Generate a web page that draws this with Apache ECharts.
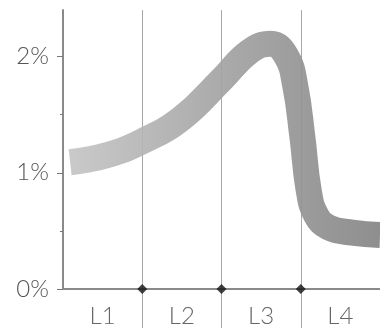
<!DOCTYPE html>
<html>
<head>
<meta charset="utf-8">
<script src="https://cdn.jsdelivr.net/npm/echarts@6/dist/echarts.min.js"></script>
<style>html,body{margin:0;padding:0;background:#fff}#c{width:380px;height:333px}</style>
</head>
<body>
<div id="c"></div>
<script>
// Data
const categories = ['L1', 'L2', 'L3', 'L4'];
const boundaries = [1, 2, 3];
const curveX = [0.09, 0.55, 1.0, 1.5, 2.0, 2.35, 2.62, 2.82, 2.93, 3.02, 3.1, 3.19, 3.35, 3.65, 4.0];
const curveY = [1.09, 1.15, 1.27, 1.47, 1.80, 2.04, 2.11, 2.00, 1.75, 1.31, 0.85, 0.64, 0.53, 0.485, 0.465];
const yTicks = [0, 1, 2];

const chart = echarts.init(document.getElementById('c'), null, {renderer: 'canvas'});
const font = 'Lato, "Open Sans", sans-serif';
const L = 63, W = 320, BOTTOM = 44, TOP = 10;
const YMAX = 2.4;
const unit = (333 - BOTTOM - TOP) / YMAX;

chart.setOption({
  animation: false,
  backgroundColor: '#fff',
  grid: [
    {left: L, width: W, top: TOP, bottom: BOTTOM},
    {left: L, width: W, top: TOP + (YMAX - yTicks[yTicks.length - 1]) * unit, bottom: BOTTOM},
    {left: L, width: W, top: TOP, bottom: 5}
  ],
  xAxis: [
    {gridIndex: 0, type: 'value', min: 0, max: categories.length, show: true,
     axisLine: {show: true, lineStyle: {color: '#8a8a8a', width: 2}},
     axisTick: {show: false}, axisLabel: {show: false}, splitLine: {show: false}},
    {gridIndex: 1, type: 'category', data: categories, boundaryGap: true,
     axisLine: {show: false}, axisTick: {show: false}, splitLine: {show: false},
     axisLabel: {color: '#666', fontSize: 24, fontWeight: 300, fontFamily: font, margin: 15}},
    {gridIndex: 2, type: 'value', min: 0, max: categories.length, interval: 1,
     axisLine: {show: false}, axisTick: {show: false}, axisLabel: {show: false},
     splitLine: {show: true, showMinLine: false, showMaxLine: false, lineStyle: {color: '#a8a8a8', width: 1}}}
  ],
  yAxis: [
    {gridIndex: 0, type: 'value', min: 0, max: YMAX,
     axisLine: {show: true, lineStyle: {color: '#8a8a8a', width: 2}},
     axisTick: {show: false}, axisLabel: {show: false}, splitLine: {show: false}},
    {gridIndex: 1, type: 'value', min: yTicks[0], max: yTicks[yTicks.length - 1], interval: 1,
     axisLine: {show: false},
     axisTick: {show: true, length: 6, lineStyle: {color: '#777', width: 1}},
     minorTick: {show: true, splitNumber: 2, length: 3, lineStyle: {color: '#777', width: 1}},
     axisLabel: {color: '#555', fontSize: 24, fontWeight: 300, fontFamily: font, margin: 14, formatter: '{value}%'},
     splitLine: {show: false}},
    {gridIndex: 2, type: 'value', min: 0, max: 1, show: false}
  ],
  series: [
    {type: 'line', xAxisIndex: 0, yAxisIndex: 0, smooth: 0.45,
     showSymbol: false, clip: true, z: 3,
     data: curveX.map((x, i) => [x, curveY[i]]),
     lineStyle: {width: 26, cap: 'butt', join: 'round', opacity: 0.92,
       color: new echarts.graphic.LinearGradient(0, 0, 1, 0, [
         {offset: 0, color: '#c8c8c8'},
         {offset: 0.5, color: '#a2a2a2'},
         {offset: 1, color: '#828282'}
       ])}},
    {type: 'scatter', xAxisIndex: 0, yAxisIndex: 0, symbol: 'diamond', symbolSize: 10,
     clip: false, z: 5, itemStyle: {color: '#111'},
     data: boundaries.map(b => [b, 0])}
  ]
});
</script>
</body>
</html>
